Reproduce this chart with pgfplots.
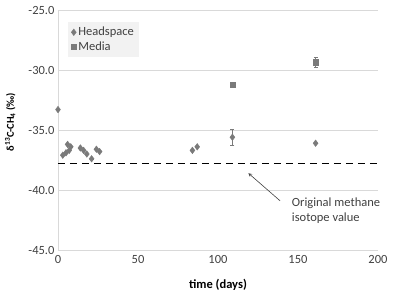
\documentclass[border=0pt]{standalone}
\usepackage{pgfplots}
\pgfplotsset{compat=1.18}
\usepackage{fontspec}
\setmainfont{Carlito}
\definecolor{mk}{HTML}{7A7A7A}
\definecolor{grd}{HTML}{D9D9D9}
\definecolor{txt}{HTML}{404040}
\begin{document}
\begin{tikzpicture}
\useasboundingbox (-58pt,-46pt) rectangle (350pt,250pt);
\begin{axis}[
  scale only axis,
  width=320pt, height=240pt,
  xmin=0, xmax=200, ymin=-45, ymax=-25,
  xtick={0,50,100,150,200},
  ytick={-45,-40,-35,-30,-25},
  axis lines*=left,
  axis line style={grd},
  major tick length=0pt,
  ymajorgrids, grid style={grd, line width=0.8pt},
  tick label style={font=\fontsize{12.5}{15}\selectfont, text=txt},
  xticklabel style={yshift=-2pt},
  /pgf/number format/assume math mode=true,
  yticklabel style={/pgf/number format/.cd, fixed, fixed zerofill, precision=1},
  xlabel={\textbf{time (days)}},
  ylabel={\textbf{δ\textsuperscript{13}C-CH\textsubscript{4} (‰)}},
  xlabel style={font=\fontsize{12.5}{15}\selectfont, text=black, at={(axis description cs:0.5,0)}, anchor=north, yshift=-26pt},
  ylabel style={font=\fontsize{10.5}{12}\selectfont, text=black, at={(axis description cs:0,0.533)}, anchor=south, yshift=39pt},
  legend style={at={(10pt,228pt)}, anchor=north west, fill=black!5, draw=none,
    font=\fontsize{12.5}{15}\selectfont, text=txt, row sep=0pt, inner sep=3pt},
  legend cell align=left,
  clip=false,
]
\addplot[only marks, mark=diamond*, mark size=3.3pt, color=mk,
  error bars/.cd, y dir=both, y explicit, error bar style={mk, line width=0.5pt},
  error mark options={mk, mark size=2pt, rotate=90}]
  table[x=x, y=y, y error=e] {
x y e
0 -33.3 0
3 -37.1 0
5 -36.9 0
6 -36.2 0
7 -36.7 0
8 -36.4 0
14 -36.5 0
16 -36.7 0
18 -37.0 0
21 -37.4 0
24 -36.6 0
26 -36.8 0
84 -36.7 0
87 -36.4 0
109 -35.6 0.64
161 -36.1 0
};
\addlegendentry{Headspace}
\addplot[only marks, mark=square*, mark size=2.6pt, color=mk,
  error bars/.cd, y dir=both, y explicit, error bar style={mk, line width=0.5pt},
  error mark options={mk, mark size=2pt, rotate=90}]
  table[x=x, y=y, y error=e] {
x y e
109 -31.2 0
161 -29.35 0.43
};
\addlegendentry{Media}
\addplot[black, line width=1.8pt, dash pattern=on 7pt off 5pt, forget plot]
  coordinates {(0,-37.8) (200,-37.8)};
\draw[-stealth, line width=0.6pt, color=txt] (axis cs:138.8,-40.9) -- (axis cs:119,-38.6);
\node[anchor=west, align=left, font=\fontsize{12.5}{15}\selectfont, text=txt]
  at (axis cs:144,-41.75) {Original methane\\isotope value};
\end{axis}
\end{tikzpicture}
\end{document}
